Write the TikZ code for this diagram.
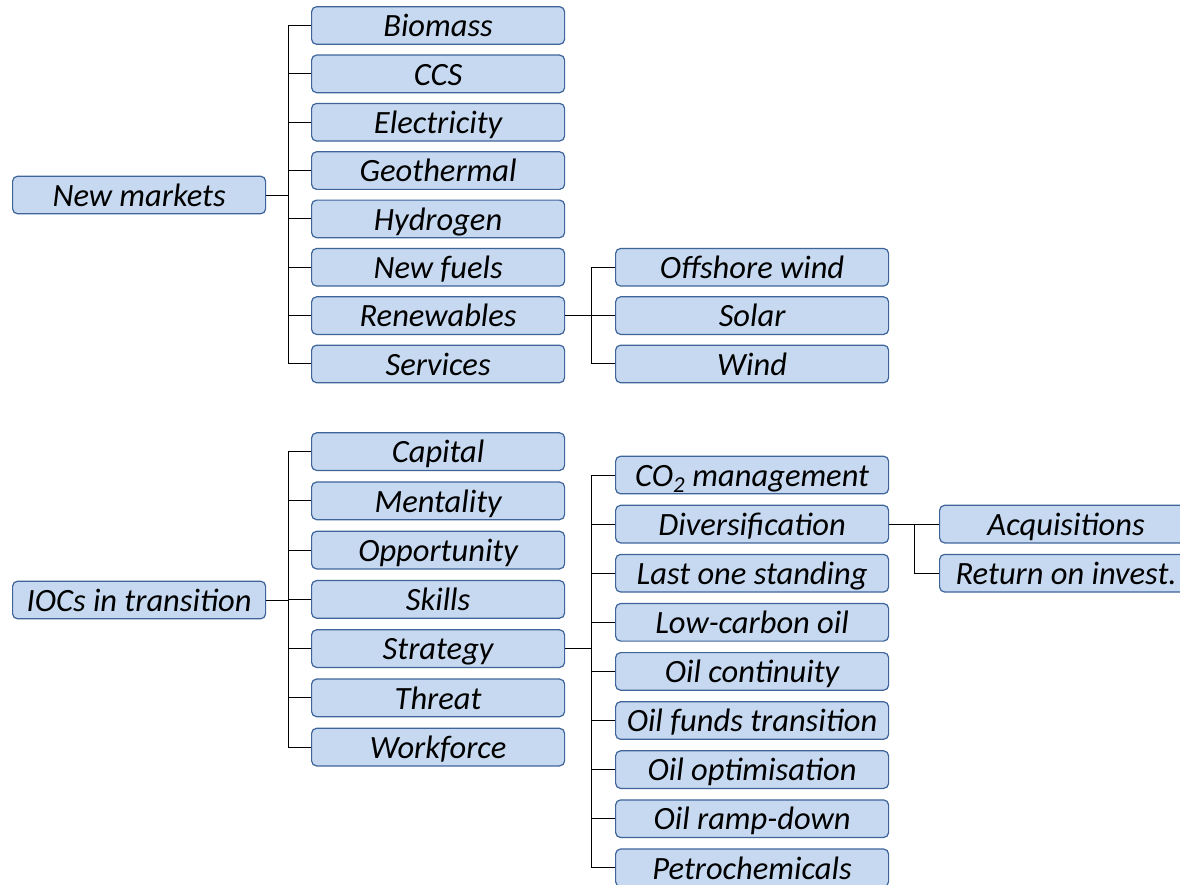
\documentclass[tikz,border=0pt]{standalone}
\usepackage{fontspec}
\setmainfont{Carlito}
\definecolor{boxfill}{RGB}{198,217,240}
\definecolor{boxline}{RGB}{62,100,154}
\tikzset{
  box/.style={draw=boxline, fill=boxfill, rounded corners=5pt, line width=1.2pt,
    minimum height=37.6pt, inner sep=0pt, anchor=west,
    font=\fontsize{32.5}{38}\selectfont\itshape, text height=22.4pt, text depth=0pt},
  wA/.style={box, minimum width=253pt},
  wB/.style={box, minimum width=273pt},
  conn/.style={draw=black, line width=1pt},
}
\begin{document}
\begin{tikzpicture}[x=1pt,y=-1pt]
\clip (0,0) rectangle (1180,884);
\fill[white] (0,0) rectangle (1180,884);
% top tree
\node[wA] (nm) at (12,195) {New markets};
\node[wA] (bio) at (311,25.5) {Biomass};
\node[wA] (ccs) at (311,73.85) {CCS};
\node[wA] (ele) at (311,122.2) {Electricity};
\node[wA] (geo) at (311,170.55) {Geothermal};
\node[wA] (hyd) at (311,218.9) {Hydrogen};
\node[wA] (nf) at (311,267.25) {New fuels};
\node[wA] (ren) at (311,315.6) {Renewables};
\node[wA] (ser) at (311,363.95) {Services};
\node[wB] (off) at (615,267.25) {Offshore wind};
\node[wB] (sol) at (615,315.6) {Solar};
\node[wB] (win) at (615,363.95) {Wind};
\foreach \c in {bio,ccs,ele,geo,hyd,nf,ren,ser}
  \draw[conn] (nm.east) -- ++(22.7,0) |- (\c.west);
\foreach \c in {off,sol,win}
  \draw[conn] (ren.east) -- ++(26,0) |- (\c.west);
% bottom tree
\node[wA] (ioc) at (12,600) {IOCs in transition};
\node[wA] (cap) at (311,451.6) {Capital};
\node[wA] (men) at (311,500.85) {Mentality};
\node[wA] (opp) at (311,550.1) {Opportunity};
\node[wA] (ski) at (311,599.35) {Skills};
\node[wA] (str) at (311,648.6) {Strategy};
\node[wA] (thr) at (311,697.85) {Threat};
\node[wA] (wor) at (311,747.1) {Workforce};
\node[wB] (co2) at (615,475) {CO\textsubscript{2} management};
\node[wB] (div) at (615,524.1) {Diversification};
\node[wB] (los) at (615,573.2) {Last one standing};
\node[wB] (lco) at (615,622.3) {Low-carbon oil};
\node[wB] (oco) at (615,671.4) {Oil continuity};
\node[wB] (oft) at (615,720.5) {Oil funds transition};
\node[wB] (oop) at (615,769.6) {Oil optimisation};
\node[wB] (orp) at (615,818.7) {Oil ramp-down};
\node[wB] (pet) at (615,867.8) {Petrochemicals};
\node[wA] (acq) at (939,524.1) {Acquisitions};
\node[wA] (roi) at (939,573.2) {Return on invest.};
\foreach \c in {cap,men,opp,ski,str,thr,wor}
  \draw[conn] (ioc.east) -- ++(22.7,0) |- (\c.west);
\foreach \c in {co2,div,los,lco,oco,oft,oop,orp,pet}
  \draw[conn] (str.east) -- ++(26,0) |- (\c.west);
\foreach \c in {acq,roi}
  \draw[conn] (div.east) -- ++(25.3,0) |- (\c.west);
\end{tikzpicture}
\end{document}
